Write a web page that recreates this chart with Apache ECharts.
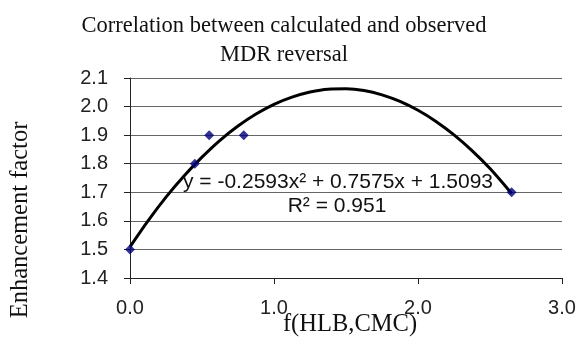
<!DOCTYPE html>
<html><head><meta charset="utf-8">
<script src="https://cdn.jsdelivr.net/npm/echarts@6/dist/echarts.min.js"></script>
<style>html,body{margin:0;padding:0;background:#fff}#c{width:579px;height:337px}</style>
</head><body><div id="c"></div>
<script>
// Observed points
var obsX = [0.0, 0.45, 0.55, 0.79, 2.65];
var obsY = [1.5, 1.8, 1.9, 1.9, 1.7];
// Trend curve points
var trendX = [0, 0.125, 0.25, 0.375, 0.5, 0.625, 0.75, 0.875, 1.0, 1.125, 1.25, 1.375, 1.5, 1.625, 1.75, 1.875, 2.0, 2.125, 2.25, 2.375, 2.5, 2.65];
var trendY = [1.509, 1.600, 1.683, 1.757, 1.823, 1.882, 1.932, 1.974, 2.008, 2.033, 2.051, 2.061, 2.062, 2.056, 2.041, 2.018, 1.987, 1.948, 1.901, 1.846, 1.783, 1.696];
var equationText = 'y = -0.2593x² + 0.7575x + 1.5093';
var r2Text = 'R² = 0.951';

var chart = echarts.init(document.getElementById('c'), null, {renderer: 'canvas'});
var sans = 'Liberation Sans, Arial, sans-serif';
var serif = 'Liberation Serif, Times New Roman, serif';
chart.setOption({
  animation: false,
  backgroundColor: '#fff',
  title: {
    text: 'Correlation between calculated and observed\nMDR reversal',
    left: 279, top: 7, textAlign: 'center',
    textStyle: {fontFamily: serif, fontWeight: 'normal', fontSize: 22.5, lineHeight: 29, color: '#111'}
  },
  grid: {left: 130, right: 17, top: 78, bottom: 59},
  xAxis: {
    type: 'value', min: 0, max: 3, interval: 1,
    axisLine: {show: true, lineStyle: {color: '#222', width: 1}},
    axisTick: {show: true, length: 6, lineStyle: {color: '#222'}},
    splitLine: {show: false},
    axisLabel: {margin: 20, fontFamily: sans, fontSize: 20, color: '#222',
      formatter: function (v) { return v.toFixed(1); }}
  },
  yAxis: {
    type: 'value', min: 1.4, max: 2.1, interval: 0.1,
    axisLine: {show: true, lineStyle: {color: '#222', width: 1}},
    axisTick: {show: true, length: 6, lineStyle: {color: '#222'}},
    splitLine: {show: true, lineStyle: {color: '#666', width: 1}},
    axisLabel: {margin: 22, fontFamily: sans, fontSize: 20, color: '#222',
      formatter: function (v) { return v.toFixed(1); }}
  },
  series: [
    {
      type: 'line', smooth: 0.3, symbol: 'none', z: 2,
      data: trendX.map(function (x, i) { return [x, trendY[i]]; }),
      lineStyle: {color: '#000', width: 3}
    },
    {
      type: 'scatter', symbol: 'diamond', symbolSize: 10, z: 3,
      data: obsX.map(function (x, i) { return [x, obsY[i]]; }),
      itemStyle: {color: '#00007a'}
    }
  ],
  graphic: [
    {type: 'text', x: 338, y: 182, z: 10, style: {text: equationText, font: '21px ' + sans, fill: '#111', align: 'center', verticalAlign: 'middle'}, silent: true},
    {type: 'text', x: 337, y: 206, z: 10, style: {text: r2Text, font: '21px ' + sans, fill: '#111', align: 'center', verticalAlign: 'middle'}, silent: true},
    {type: 'text', x: 350, y: 325, z: 10, style: {text: 'f(HLB,CMC)', font: '24.5px ' + serif, fill: '#111', align: 'center', verticalAlign: 'middle'}, silent: true},
    {type: 'text', x: 21, y: 220, rotation: Math.PI / 2, style: {text: 'Enhancement factor', font: '24.5px ' + serif, fill: '#111', align: 'center', verticalAlign: 'middle'}, silent: true}
  ]
});
</script></body></html>
